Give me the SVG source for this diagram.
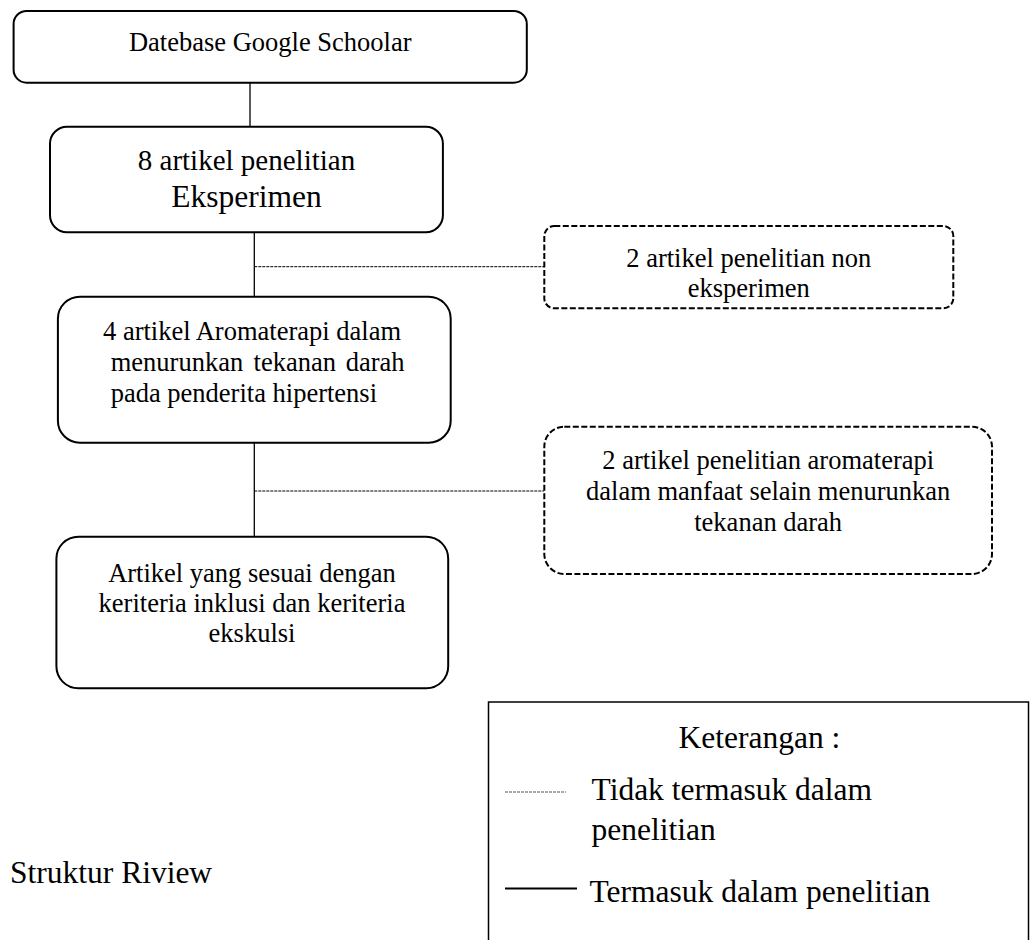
<svg xmlns="http://www.w3.org/2000/svg" width="1031" height="940" viewBox="0 0 1031 940">
<style>
text{font-family:"Liberation Serif","Times New Roman",serif;fill:#000;}
.box{fill:#fff;stroke:#000;stroke-width:2;}
.dbox{fill:#fff;stroke:#000;stroke-width:2;stroke-dasharray:6 2.5;}
.solid{stroke:#000;stroke-width:1.3;fill:none;}
.dash{stroke:#000;stroke-width:1;stroke-dasharray:3 1;fill:none;}
.t{font-size:26.5px;}
.c{text-anchor:middle;}
.lg{font-size:31.5px;}
</style>
<rect width="1031" height="940" fill="#fff"/>
<g id="connectors">
<line class="solid" x1="250" y1="82.7" x2="250" y2="126.7"/>
<line class="solid" x1="254.3" y1="232.3" x2="254.3" y2="296.7"/>
<line class="solid" x1="254.3" y1="442.7" x2="254.3" y2="536.7"/>
<line class="dash" x1="254.3" y1="266.7" x2="544.3" y2="266.7"/>
<line class="dash" x1="254.3" y1="491" x2="544.3" y2="491"/>
</g>
<g id="node-database">
<rect class="box" x="13.6" y="11" width="513.2" height="71.7" rx="13"/>
<text class="t c" x="270.2" y="51">Datebase Google Schoolar</text>
</g>
<g id="node-eksperimen">
<rect class="box" x="50" y="126.7" width="392.9" height="105.6" rx="17"/>
<text class="c" x="246.5" y="170" font-size="29">8 artikel penelitian</text>
<text class="c" x="246.5" y="206.7" font-size="31.5">Eksperimen</text>
</g>
<g id="node-non-eksperimen">
<rect class="dbox" x="544.3" y="226" width="409" height="82.3" rx="10"/>
<text class="t c" x="748.8" y="266.7">2 artikel penelitian non</text>
<text class="t c" x="748.8" y="297.3">eksperimen</text>
</g>
<g id="node-aromaterapi">
<rect class="box" x="57.9" y="296.7" width="392.8" height="146" rx="22"/>
<text class="t" x="103" y="340">4 artikel Aromaterapi dalam</text>
<text class="t" y="370.7"><tspan x="110.7">menurunkan</tspan><tspan x="253.6">tekanan</tspan><tspan x="345.7">darah</tspan></text>
<text class="t" x="110.7" y="401.7">pada penderita hipertensi</text>
</g>
<g id="node-manfaat-lain">
<rect class="dbox" x="544.3" y="426.7" width="447.7" height="147.3" rx="20"/>
<text class="t c" x="768.2" y="468.5">2 artikel penelitian aromaterapi</text>
<text class="t c" x="768.2" y="500">dalam manfaat selain menurunkan</text>
<text class="t c" x="768.2" y="531">tekanan darah</text>
</g>
<g id="node-inklusi">
<rect class="box" x="56.4" y="536.7" width="391.8" height="151.6" rx="22"/>
<text class="t c" x="252" y="581.7">Artikel yang sesuai dengan</text>
<text class="t c" x="252" y="611.7">keriteria inklusi dan keriteria</text>
<text class="t c" x="252" y="641.7">ekskulsi</text>
</g>
<g id="legend">
<rect x="488.5" y="702" width="540" height="260" fill="none" stroke="#000" stroke-width="1.5"/>
<text class="lg" x="678.5" y="748.3">Keterangan :</text>
<line x1="505" y1="792" x2="566" y2="792" stroke="#555" stroke-width="1" stroke-dasharray="3 1"/>
<text class="lg" x="591.5" y="800">Tidak termasuk dalam</text>
<text class="lg" x="591.5" y="840">penelitian</text>
<line x1="505" y1="888.5" x2="577" y2="888.5" stroke="#000" stroke-width="2"/>
<text class="lg" x="589.5" y="901.7">Termasuk dalam penelitian</text>
</g>
<text class="lg" x="10" y="883.3">Struktur Riview</text>
</svg>
